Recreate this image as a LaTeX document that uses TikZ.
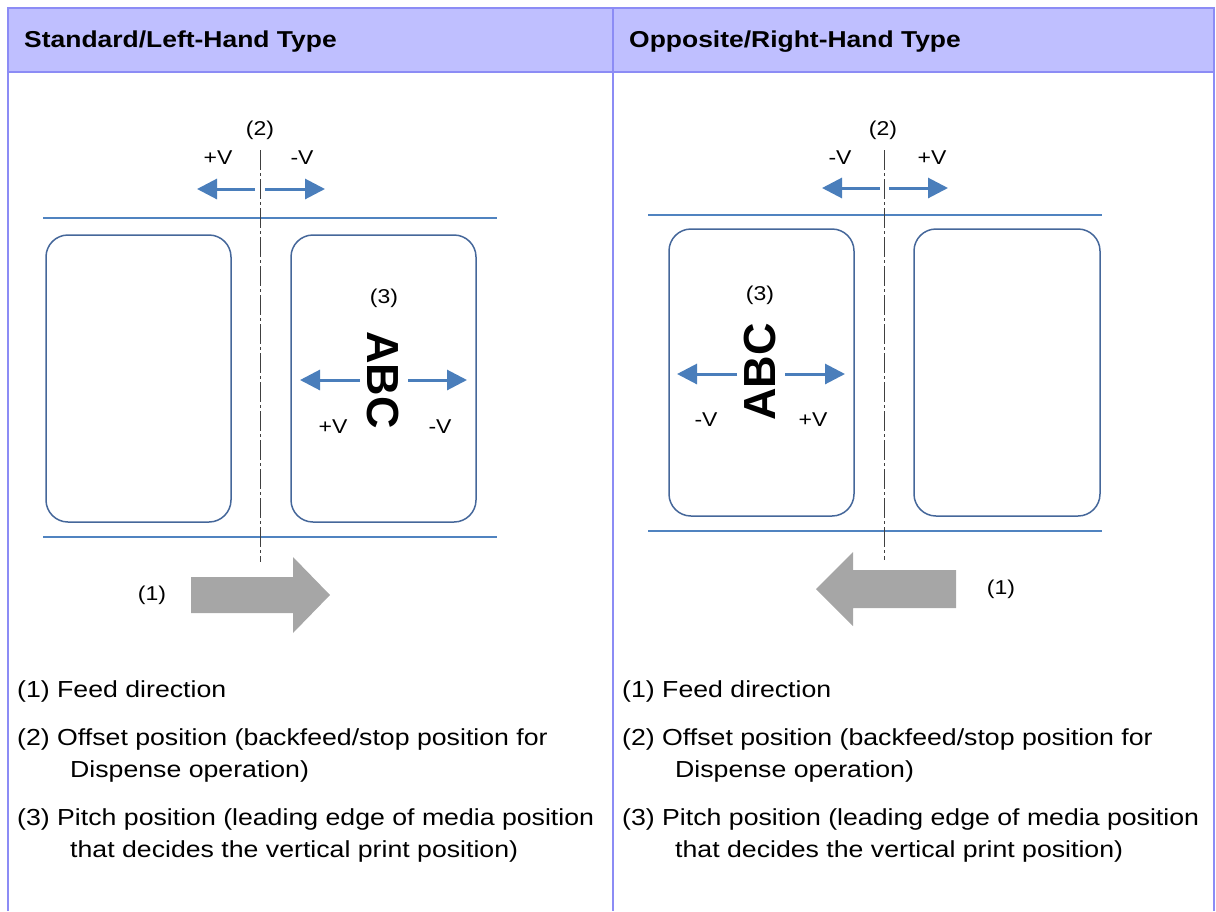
\documentclass[tikz,border=0pt]{standalone}
\usepackage{fontspec}
\setmainfont{Liberation Sans}[FakeStretch=1.15]
\newfontfamily\abcfont{Liberation Sans}
\usetikzlibrary{arrows.meta}
\definecolor{hdrfill}{HTML}{BFBFFF}
\definecolor{tblline}{HTML}{8C8CF5}
\definecolor{railblue}{HTML}{5083C0}
\definecolor{boxblue}{HTML}{45679A}
\definecolor{arrowblue}{HTML}{4A7EBB}
\definecolor{feedgray}{HTML}{A6A6A6}
\tikzset{
  grid line/.style  = {draw=tblline, line width=2pt},
  rail/.style       = {draw=railblue, line width=2.8pt},
  label box/.style  = {draw=boxblue, line width=1.5pt, rounded corners=22pt},
  centre line/.style= {draw=black!75, line width=1pt,
                       dash pattern=on 20pt off 3pt on 3pt off 3pt},
  vshift/.style     = {draw=arrowblue, line width=3pt,
                       -{Triangle[length=20pt,width=20pt]}},
  small lbl/.style  = {font=\fontsize{20}{23}\selectfont, inner sep=0pt},
  legend/.style     = {font=\fontsize{23.2}{27}\selectfont, anchor=base west, inner sep=0pt},
  head/.style       = {font=\fontsize{23}{27}\selectfont\bfseries, anchor=base west, inner sep=0pt},
  abc/.style        = {font=\abcfont\bfseries\fontsize{45}{48}\selectfont, inner sep=0pt},
}

\begin{document}
\begin{tikzpicture}[x=1pt,y=-1pt]
  \useasboundingbox (0,0) rectangle (1216,911);

  % =======================================================================
  %  Table frame and header
  % =======================================================================
  \fill[hdrfill] (8,8) rectangle (1214,72);
  \draw[grid line] (8,911) -- (8,8) -- (1214,8) -- (1214,911);
  \draw[grid line] (8,72) -- (1214,72);
  \draw[grid line] (613,8) -- (613,911);
  \node[head] (hdrL) at (24,47)  {Standard/Left-Hand Type};
  \node[head] (hdrR) at (629,47) {Opposite/Right-Hand Type};

  % =======================================================================
  %  Standard / left-hand type
  % =======================================================================
  \draw[rail] (43,218) -- (497,218);
  \draw[rail] (43,537) -- (497,537);
  \draw[label box] (46,235) rectangle (231,522);
  \draw[label box] (291,235) rectangle (476,522);
  \draw[centre line] (260,150) -- (260,562);

  % offset position
  \node[small lbl] (offL)  at (260,130) {(2)};
  \node[small lbl] (offLp) at (218,158) {+V};
  \node[small lbl] (offLm) at (302,158) {-V};
  \draw[vshift] (255,189) -- (197,189);
  \draw[vshift] (265,189) -- (325,189);

  % pitch position
  \node[small lbl] (pitL) at (384,298) {(3)};
  \node[abc,rotate=-90] (abcL) at (383,380) {ABC};
  \draw[vshift] (360,380) -- (300,380);
  \draw[vshift] (408,380) -- (467,380);
  \node[small lbl] (pitLp) at (333,427) {+V};
  \node[small lbl] (pitLm) at (440,427) {-V};

  % feed direction
  \fill[feedgray] (191,577) -- (293,577) -- (293,557) -- (330,595)
        -- (293,633) -- (293,613) -- (191,613) -- cycle;
  \node[small lbl] (feedL) at (152,595) {(1)};

  % legend
  \node[legend] (legL1)  at (17,697)  {(1) Feed direction};
  \node[legend] (legL2)  at (17,745)  {(2) Offset position (backfeed/stop position for};
  \node[legend] (legL2b) at (70,777)  {Dispense operation)};
  \node[legend] (legL3)  at (17,825)  {(3) Pitch position (leading edge of media position};
  \node[legend] (legL3b) at (70,857)  {that decides the vertical print position)};

  % =======================================================================
  %  Opposite / right-hand type
  % =======================================================================
  \draw[rail] (648,215) -- (1102,215);
  \draw[rail] (648,531) -- (1102,531);
  \draw[label box] (669,229) rectangle (854,516);
  \draw[label box] (914,229) rectangle (1100,516);
  \draw[centre line] (884,150) -- (884,560);

  % offset position
  \node[small lbl] (offR)  at (883,130) {(2)};
  \node[small lbl] (offRm) at (840,158) {-V};
  \node[small lbl] (offRp) at (932,158) {+V};
  \draw[vshift] (880,188) -- (822,188);
  \draw[vshift] (889,188) -- (948,188);

  % pitch position
  \node[small lbl] (pitR) at (760,295) {(3)};
  \node[abc,rotate=90] (abcR) at (760,372) {ABC};
  \draw[vshift] (737,374) -- (677,374);
  \draw[vshift] (785,374) -- (845,374);
  \node[small lbl] (pitRm) at (706,420) {-V};
  \node[small lbl] (pitRp) at (813,420) {+V};

  % feed direction
  \fill[feedgray] (956,570) -- (853,570) -- (853,552) -- (816,589)
        -- (853,626) -- (853,608) -- (956,608) -- cycle;
  \node[small lbl] (feedR) at (1001,589) {(1)};

  % legend
  \node[legend] (legR1)  at (622,697)  {(1) Feed direction};
  \node[legend] (legR2)  at (622,745)  {(2) Offset position (backfeed/stop position for};
  \node[legend] (legR2b) at (675,777)  {Dispense operation)};
  \node[legend] (legR3)  at (622,825)  {(3) Pitch position (leading edge of media position};
  \node[legend] (legR3b) at (675,857)  {that decides the vertical print position)};
\end{tikzpicture}
\end{document}
